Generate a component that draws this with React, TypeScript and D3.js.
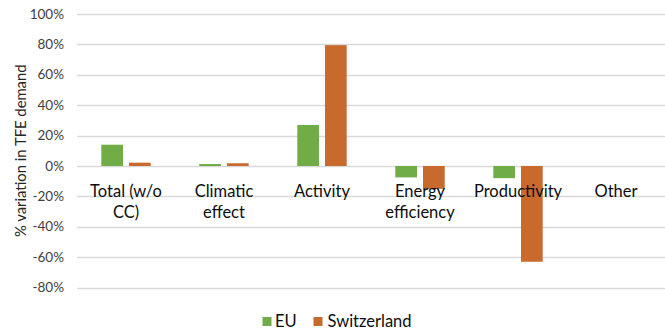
import React from "react";
import * as d3 from "d3";

// Category labels (split across lines as shown on the axis)
const categories: string[] = ["Total (w/o CC)", "Climatic effect", "Activity", "Energy efficiency", "Productivity", "Other"];
const categoryLines: string[][] = [["Total (w/o", "CC)"], ["Climatic", "effect"], ["Activity"], ["Energy", "efficiency"], ["Productivity"], ["Other"]];
const seriesNames: string[] = ["EU", "Switzerland"];
const euValues: (number | null)[] = [14, 1.3, 27, -7.5, -8, null];
const switzerlandValues: (number | null)[] = [2.2, 1.8, 79.5, -15, -63, null];
const yTicks: number[] = [100, 80, 60, 40, 20, 0, -20, -40, -60, -80];

const colors: Record<string, string> = { EU: "#70AD47", Switzerland: "#C8692E" };
const font = "Lato, 'Open Sans', sans-serif";

export default function App() {
  const width = 665;
  const height = 331;
  const gridLeft = 77;
  const gridRight = 665;

  const y = d3.scaleLinear().domain([-80, 100]).range([287.6, 14]);
  const x0 = d3.scaleBand<string>().domain(categories).range([gridLeft, gridRight]);
  const bw = x0.bandwidth();
  const x1 = d3
    .scaleBand<string>()
    .domain(seriesNames)
    .range([bw * 0.248, bw * 0.752])
    .paddingInner(0.217);

  const seriesValues: Record<string, (number | null)[]> = {
    EU: euValues,
    Switzerland: switzerlandValues,
  };

  return (
    <svg
      width={width}
      height={height}
      style={{ position: "absolute", left: 0, top: 0, background: "#fff" }}
      fontFamily={font}
    >
      {/* gridlines */}
      {yTicks.map((t) => (
        <line
          key={t}
          x1={gridLeft}
          x2={gridRight}
          y1={Math.round(y(t)) + 0.5}
          y2={Math.round(y(t)) + 0.5}
          stroke="#D9D9D9"
          strokeWidth={1.3}
        />
      ))}
      {/* y tick labels */}
      {yTicks.map((t) => (
        <text key={"l" + t} x={64} y={y(t) + 4.5} textAnchor="end" fontSize={13.5} fill="#404040">
          {t}%
        </text>
      ))}
      {/* y axis title */}
      <text
        transform={`translate(26,${(y(100) + y(-80)) / 2}) rotate(-90)`}
        textAnchor="middle"
        fontSize={14.8}
        fill="#262626"
      >
        % variation in TFE demand
      </text>
      {/* bars */}
      {seriesNames.map((s) =>
        categories.map((c, i) => {
          const v = seriesValues[s][i];
          if (v == null) return null;
          const x = (x0(c) ?? 0) + (x1(s) ?? 0);
          return (
            <rect
              key={s + c}
              x={x}
              y={y(Math.max(0, v))}
              width={x1.bandwidth()}
              height={Math.abs(y(v) - y(0))}
              fill={colors[s]}
            />
          );
        })
      )}
      {/* category labels */}
      {categories.map((c, i) => (
        <text key={"c" + c} x={(x0(c) ?? 0) + bw / 2} textAnchor="middle" fontSize={16.5} fill="#0D0D0D">
          {categoryLines[i].map((line, j) => (
            <tspan key={j} x={(x0(c) ?? 0) + bw / 2} y={197 + j * 20.5}>
              {line}
            </tspan>
          ))}
        </text>
      ))}
      {/* legend */}
      <g>
        <rect x={262.5} y={317} width={9} height={9} fill={colors.EU} />
        <text x={275} y={327} fontSize={16.5} fill="#0D0D0D">EU</text>
        <rect x={313.5} y={317} width={9} height={9} fill={colors.Switzerland} />
        <text x={327.5} y={327} fontSize={16.5} fill="#0D0D0D">Switzerland</text>
      </g>
    </svg>
  );
}
